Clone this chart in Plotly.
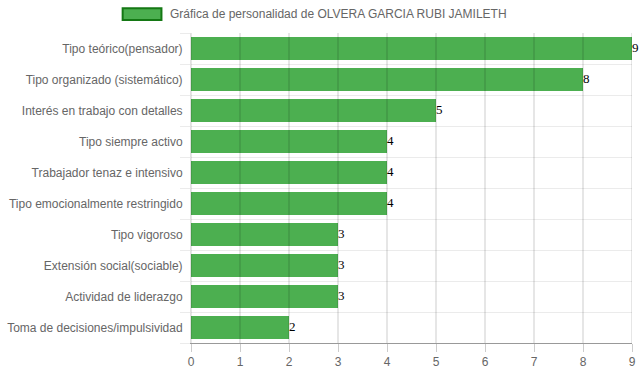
import plotly.graph_objects as go

categories = [
    "Tipo teórico(pensador)",
    "Tipo organizado (sistemático)",
    "Interés en trabajo con detalles",
    "Tipo siempre activo",
    "Trabajador tenaz e intensivo",
    "Tipo emocionalmente restringido",
    "Tipo vigoroso",
    "Extensión social(sociable)",
    "Actividad de liderazgo",
    "Toma de decisiones/impulsividad",
]
values = [9, 8, 5, 4, 4, 4, 3, 3, 3, 2]
x_ticks = list(range(0, 10))
series_name = "Gráfica de personalidad de OLVERA GARCIA RUBI JAMILETH"

pos = list(range(len(categories)))

fig = go.Figure()
fig.add_trace(go.Bar(
    y=pos, x=values, orientation="h", width=0.72,
    marker=dict(color="rgb(76,175,80)", line=dict(width=0)),
    showlegend=False, name=series_name, hoverinfo="x",
))
# value labels next to bar ends
fig.add_trace(go.Scatter(
    y=pos, x=values, mode="text", text=[str(v) for v in values],
    textposition="middle right",
    textfont=dict(family="Liberation Serif", size=13, color="#000"),
    cliponaxis=False, showlegend=False, hoverinfo="skip",
))

# vertical grid lines drawn above the bars (as in the reference)
for t in x_ticks:
    fig.add_shape(type="line", xref="x", yref="paper", x0=t, x1=t, y0=0, y1=1,
                  line=dict(color="rgba(0,0,0,0.2)", width=1), layer="above")

# manual legend
fig.add_shape(type="rect", xref="paper", yref="paper",
              x0=-0.155, x1=-0.067, y0=1.042, y1=1.080,
              fillcolor="rgb(76,175,80)", line=dict(color="rgb(20,120,20)", width=2))
fig.add_annotation(xref="paper", yref="paper", x=-0.052, y=1.061, xanchor="left",
                   yanchor="middle", showarrow=False, text=series_name,
                   font=dict(family="Liberation Sans", size=12, color="#666"))

fig.update_layout(
    width=639, height=372,
    margin=dict(l=191, r=7, t=33, b=29, autoexpand=False),
    plot_bgcolor="white", paper_bgcolor="white",
    font=dict(family="Liberation Sans", size=12, color="#666"),
    bargap=0,
)
fig.update_xaxes(
    range=[0, 9], tickvals=x_ticks, showgrid=False, zeroline=False,
    automargin=False,
    ticks="outside", ticklen=8, tickcolor="rgba(0,0,0,0.2)",
    showline=True, linecolor="#999", linewidth=1,
    tickfont=dict(size=12, color="#666"),
)
fig.update_yaxes(
    range=[len(categories) - 0.5, -0.5], tickvals=pos, ticktext=categories,
    showgrid=False, zeroline=False, ticks="", automargin=False,
    ticklabelstandoff=5,
    showline=True, linecolor="rgba(0,0,0,0.12)", linewidth=1,
    minor=dict(tickvals=[p - 0.5 for p in pos] + [len(pos) - 0.5], showgrid=True,
               gridcolor="rgba(0,0,0,0.08)", ticks="outside", ticklen=10,
               tickcolor="rgba(0,0,0,0.08)"),
    tickfont=dict(size=12, color="#666"),
)

fig.write_html(
    "out.html",
    config={"displayModeBar": False},
    post_script="document.body.style.margin='0';document.body.style.overflow='hidden';",
)
